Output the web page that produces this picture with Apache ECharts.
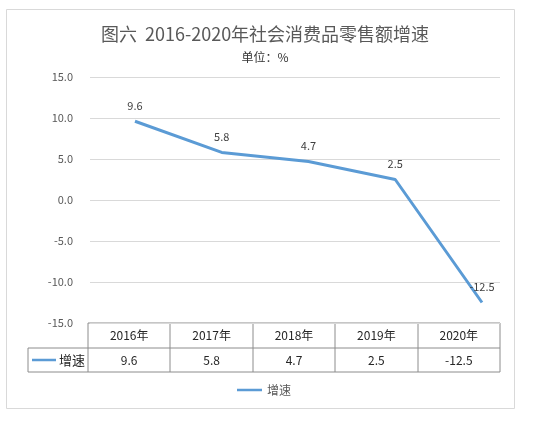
<!DOCTYPE html>
<html>
<head>
<meta charset="utf-8">
<script src="https://cdn.jsdelivr.net/npm/echarts@6/dist/echarts.min.js"></script>
<style>
  html, body { margin: 0; padding: 0; background: #fff; }
  #main { width: 549px; height: 425px; }
</style>
</head>
<body>
<div id="main"></div>
<script>
var years = ['2016年', '2017年', '2018年', '2019年', '2020年'];
var growth = [9.6, 5.8, 4.7, 2.5, -12.5];
var seriesName = '增速';
var yTicks = { min: -15, max: 15, step: 5 };

var font = '"Noto Sans CJK SC", "Noto Sans", sans-serif';
var lineColor = '#5b9bd5';

// table geometry (Excel style data table under the plot)
var tLeft = 88, tRight = 500, tTop = 323, tMid = 348, tBottom = 372, keyLeft = 28;
var colW = (tRight - tLeft) / years.length;

var tableLines = [];
function hline(x1, x2, y) {
  tableLines.push({ type: 'line', shape: { x1: x1, y1: y, x2: x2, y2: y }, style: { stroke: '#8c8c8c', lineWidth: 1 } });
}
function vline(x, y1, y2) {
  tableLines.push({ type: 'line', shape: { x1: x, y1: y1, x2: x, y2: y2 }, style: { stroke: '#8c8c8c', lineWidth: 1 } });
}
hline(tLeft, tRight, tTop);
hline(keyLeft, tRight, tMid);
hline(keyLeft, tRight, tBottom);
vline(keyLeft, tMid, tBottom);
for (var i = 0; i <= years.length; i++) {
  vline(Math.round(tLeft + i * colW), tTop, tBottom);
}

var myChart = echarts.init(document.getElementById('main'));
var option = {
  backgroundColor: '#fff',
  animation: false,
  title: [
    {
      text: '图六  2016-2020年社会消费品零售额增速',
      left: 260, textAlign: 'center', top: 20,
      textStyle: { fontFamily: font, fontSize: 18, fontWeight: 'normal', color: '#595959' }
    },
    {
      text: '单位：%',
      left: 260, textAlign: 'center', top: 46,
      textStyle: { fontFamily: font, fontSize: 12, fontWeight: 'normal', color: '#333' }
    }
  ],
  legend: {
    bottom: 24, left: 232,
    data: [seriesName],
    icon: 'rect', itemWidth: 25, itemHeight: 2.5, itemGap: 4,
    textStyle: { fontFamily: font, fontSize: 12, color: '#595959' }
  },
  grid: [
    { left: 90, right: 49, top: 77, height: 246 },
    { left: 91.6, width: 433.75, top: 77, height: 246 },
    { left: tLeft, width: tRight - tLeft, top: tTop, height: tBottom - tTop }
  ],
  xAxis: [
    { gridIndex: 0, type: 'category', data: years, show: false },
    { gridIndex: 1, type: 'category', data: years, show: false, boundaryGap: true },
    {
      gridIndex: 2, type: 'category', data: years, position: 'top',
      axisLine: { show: false }, axisTick: { show: false },
      axisLabel: { interval: 0, margin: -12.5, verticalAlign: 'middle', fontFamily: font, fontSize: 12, color: '#262626' }
    },
    {
      gridIndex: 2, type: 'category', data: years, position: 'bottom',
      axisLine: { show: false }, axisTick: { show: false },
      axisLabel: {
        interval: 0, margin: -12, verticalAlign: 'middle', fontFamily: font, fontSize: 12, color: '#262626',
        formatter: function (v, idx) { return String(growth[idx]); }
      }
    }
  ],
  yAxis: [
    {
      gridIndex: 0, type: 'value', min: yTicks.min, max: yTicks.max, interval: yTicks.step,
      axisLine: { show: false }, axisTick: { show: false },
      axisLabel: { margin: 17, fontFamily: font, fontSize: 11, color: '#595959', formatter: function (v) { return v.toFixed(1); } },
      splitLine: { lineStyle: { color: '#d9d9d9', width: 1 } }
    },
    { gridIndex: 1, type: 'value', min: yTicks.min, max: yTicks.max, show: false },
    { gridIndex: 2, type: 'value', min: 0, max: 1, show: false }
  ],
  series: [
    {
      name: seriesName, type: 'line', xAxisIndex: 1, yAxisIndex: 1,
      data: growth, symbol: 'circle', symbolSize: 0.1, showSymbol: true,
      lineStyle: { color: lineColor, width: 3 },
      itemStyle: { color: lineColor },
      label: {
        show: true, position: 'top', distance: 10,
        fontFamily: font, fontSize: 11, color: '#404040',
        formatter: function (p) { return String(p.value); }
      }
    }
  ],
  graphic: [
    { type: 'rect', shape: { x: 6.5, y: 9.5, width: 508, height: 399 }, style: { fill: 'none', stroke: '#d9d9d9', lineWidth: 1 }, silent: true },
    { type: 'group', children: tableLines, silent: true },
    { type: 'line', shape: { x1: 32, y1: 360, x2: 56, y2: 360 }, style: { stroke: lineColor, lineWidth: 2.5 } },
    { type: 'text', x: 59, y: 360, style: { text: seriesName, font: '13px ' + font, fill: '#262626', verticalAlign: 'middle' } }
  ]
};
myChart.setOption(option);
</script>
</body>
</html>
